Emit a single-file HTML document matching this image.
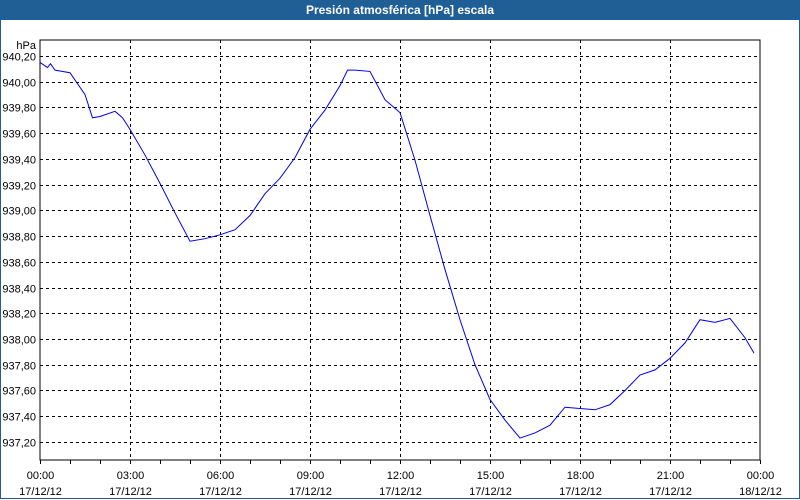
<!DOCTYPE html>
<html><head><meta charset="utf-8"><style>
body{margin:0;width:800px;height:500px;background:#fff;overflow:hidden;font-family:"Liberation Sans",sans-serif}
#title{position:absolute;left:0;top:0;width:800px;height:20px;background:#1f5f96;color:#fff;font-weight:bold;font-size:12px;text-align:center;line-height:20px}
#frame{position:absolute;left:0;top:20px;width:798px;height:478px;border:1px solid #1f5f96;border-top:none}
svg{position:absolute;left:0;top:0}
</style></head><body>
<div id="title">Presión atmosférica [hPa] escala</div>
<div id="frame"></div>
<svg id="chart" width="800" height="500"></svg>
<script>
const hours=[0,0.25,0.35,0.5,1,1.5,1.75,2,2.5,2.75,3,3.5,4,4.5,5,5.5,6,6.5,7,7.5,8,8.5,9,9.5,10,10.25,10.5,11,11.5,12,12.5,13,13.5,14,14.5,15,15.5,16,16.5,17,17.5,18,18.5,19,19.5,20,20.5,21,21.5,22,22.5,23,23.5,23.8];
const values=[940.15,940.11,940.14,940.09,940.07,939.90,939.72,939.73,939.77,939.72,939.63,939.43,939.21,938.98,938.76,938.78,938.81,938.85,938.96,939.13,939.25,939.41,939.63,939.78,939.97,940.09,940.09,940.08,939.86,939.76,939.39,938.96,938.54,938.15,937.80,937.53,937.37,937.23,937.27,937.33,937.47,937.46,937.45,937.49,937.60,937.72,937.76,937.85,937.97,938.15,938.13,938.16,938.01,937.89];
const yTicks=["940,20","940,00","939,80","939,60","939,40","939,20","939,00","938,80","938,60","938,40","938,20","938,00","937,80","937,60","937,40","937,20"];
const xTickTimes=["00:00","03:00","06:00","09:00","12:00","15:00","18:00","21:00","00:00"];
const xTickDates=["17/12/12","17/12/12","17/12/12","17/12/12","17/12/12","17/12/12","17/12/12","17/12/12","18/12/12"];
const L=40,R=760,T=40,B=460;
const xs=h=>L+h*(R-L)/24;
const ys=v=>56+(940.2-v)/0.2*25.73;
const svg=document.getElementById('chart');const NS='http://www.w3.org/2000/svg';
function mk(t,a){const e=document.createElementNS(NS,t);for(const k in a)e.setAttribute(k,a[k]);svg.appendChild(e);return e;}
let e=mk('rect',{x:L,y:T,width:R-L,height:B-T,fill:'#fff',stroke:'#000','stroke-width':1});


yTicks.forEach(t=>{const v=parseFloat(t.replace(',','.'));const y=Math.round(ys(v))+0.5;
 let g=mk('line',{x1:L,x2:R,y1:y,y2:y,stroke:'#000','stroke-dasharray':'3,3'});
 
 
 let tx=mk('text',{x:L-4,y:y+4,'text-anchor':'end','font-size':'11',fill:'#000'});tx.textContent=t;
 
 
});
let u=mk('text',{x:L-4,y:T+9,'text-anchor':'end','font-size':'11'});u.textContent='hPa';


for(let h=0;h<=24;h++){const x=Math.round(xs(h))+0.5;
 let t=mk('line',{x1:x,x2:x,y1:B,y2:B+4,stroke:'#000'});
 
 }
xTickTimes.forEach((t,i)=>{const x=Math.round(xs(i*3))+0.5;
 if(i>0&&i<8){let g=mk('line',{x1:x,x2:x,y1:T,y2:B,stroke:'#000','stroke-dasharray':'3,3'});
 
 }
 let a=mk('text',{x:x,y:479,'text-anchor':'middle','font-size':'11'});a.textContent=t;
 
 
 let b=mk('text',{x:x,y:495,'text-anchor':'middle','font-size':'11'});b.textContent=xTickDates[i];
 
 
});
let p=mk('polyline',{points:hours.map((h,i)=>xs(h)+','+ys(values[i])).join(' '),fill:'none',stroke:'#0000ee','stroke-width':1});


</script>
</body></html>
